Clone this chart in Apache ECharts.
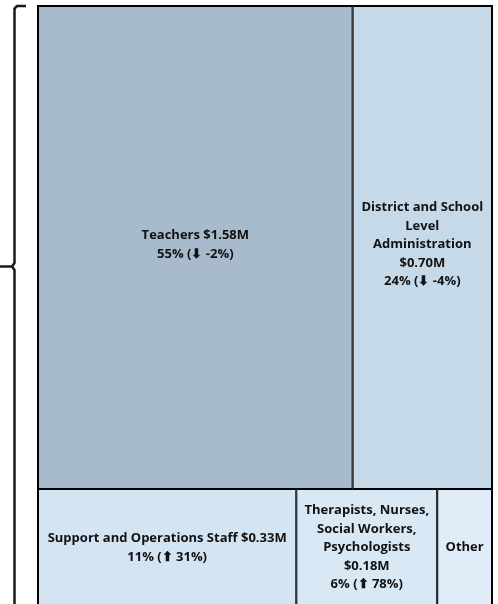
<!DOCTYPE html>
<html>
<head>
<meta charset="utf-8">
<script src="https://cdn.jsdelivr.net/npm/echarts@6/dist/echarts.min.js"></script>
<style>
  html, body { margin: 0; padding: 0; background: #fff; }
  #main { width: 498px; height: 604px; }
</style>
</head>
<body>
<div id="main"></div>
<script>
// staff categories, top row then bottom row
var topNames = ['Teachers', 'District and School\nLevel\nAdministration']
var topValues = [1.58, 0.70]
var topShares = [55, 24]
var topChanges = [-2, -4]
var topColors = ['#a8bbcc', '#c6d9e8']

var bottomNames = ['Support and Operations Staff', 'Therapists, Nurses,\nSocial Workers,\nPsychologists', 'Other']
var bottomValues = [0.33, 0.18, 0.07]
var bottomShares = [11, 6, null]
var bottomChanges = [31, 78, null]
var bottomColors = ['#d3e4f2', '#d8e8f5', '#e0edf8']

function leaves(names, values, shares, changes, colors) {
  return names.map(function(n, i) {
    return {
      name: n,
      value: values[i],
      share: shares[i],
      change: changes[i],
      itemStyle: { color: colors[i] }
    }
  })
}

var chart = echarts.init(document.getElementById('main'))

chart.setOption({
  backgroundColor: '#ffffff',
  animation: false,
  graphic: [
    {
      type: 'polyline',
      shape: { points: [[26, 6], [17, 6], [14.5, 8.5], [14.5, 263], [12, 266.5], [0, 266.5]] },
      style: { stroke: '#1a1a1a', lineWidth: 2.5, fill: null }
    },
    {
      type: 'polyline',
      shape: { points: [[12, 266.5], [14.5, 270], [14.5, 610]] },
      style: { stroke: '#1a1a1a', lineWidth: 2.5, fill: null }
    }
  ],
  series: [{
    type: 'treemap',
    left: 37,
    top: 5,
    width: 456,
    height: 608,
    squareRatio: 2,
    roam: false,
    nodeClick: false,
    breadcrumb: { show: false },
    emphasis: { disabled: true },
    label: {
      show: true,
      position: 'inside',
      align: 'center',
      verticalAlign: 'middle',
      offset: [0, -3],
      color: '#111',
      fontFamily: 'Open Sans',
      fontWeight: 'bold',
      fontSize: 13,
      lineHeight: 18.5,
      formatter: function(p) {
        var d = p.data
        if (d.share == null) return d.name
        var sep = d.name.indexOf('\n') >= 0 ? '\n' : ' '
        var arrow = d.change < 0 ? '\u2B07' : '\u2B06'
        return d.name + sep + '$' + d.value.toFixed(2) + 'M\n' +
          d.share + '% (' + arrow + ' ' + d.change + '%)'
      }
    },
    levels: [
      { itemStyle: { borderWidth: 1, borderColor: '#000', gapWidth: 0 } },
      { itemStyle: { borderWidth: 0, gapWidth: 0 } },
      { itemStyle: { borderWidth: 1, borderColor: '#000', gapWidth: 0 } }
    ],
    data: [
      { name: 'top', children: leaves(topNames, topValues, topShares, topChanges, topColors) },
      { name: 'bottom', children: leaves(bottomNames, bottomValues, bottomShares, bottomChanges, bottomColors) }
    ]
  }]
})
</script>
</body>
</html>
